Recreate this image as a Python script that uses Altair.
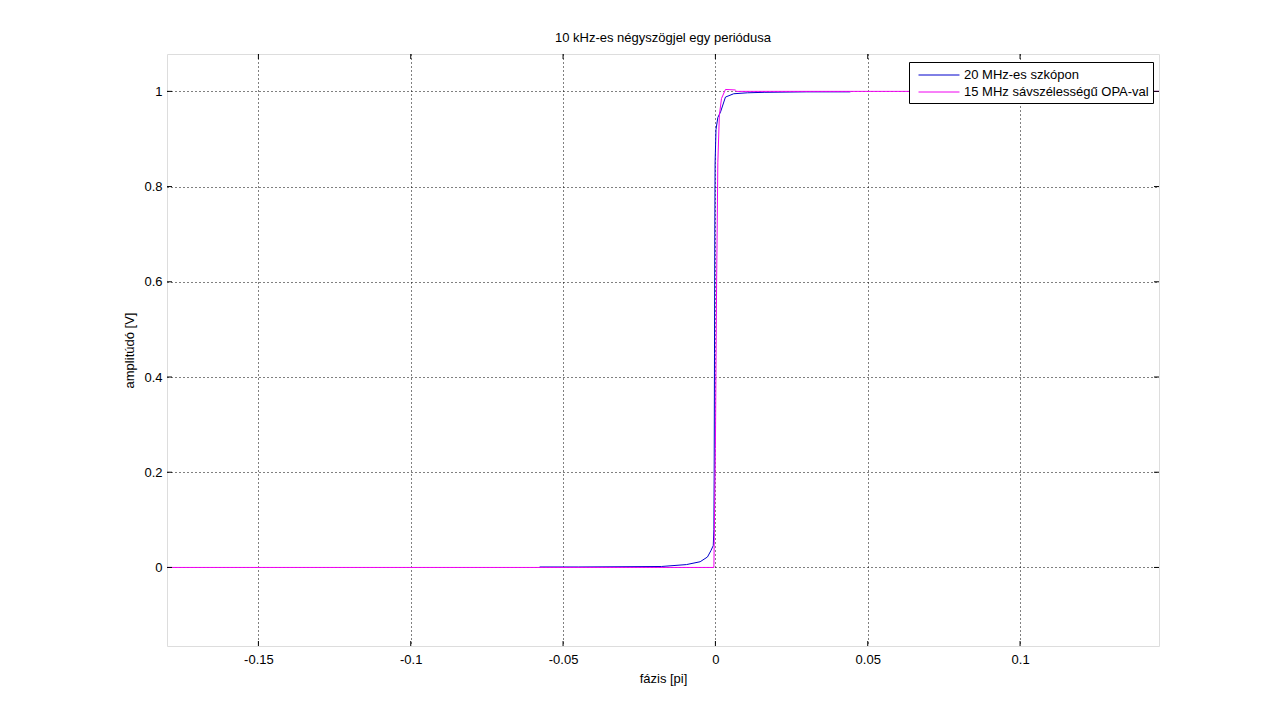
import altair as alt
import pandas as pd

# Blue series: 20 MHz-es szkópon
blue_x = [-0.0577, -0.045, -0.03, -0.0177, -0.0095, -0.005, -0.0026, -0.0015, -0.0007,
          -0.0005, -0.0004, -0.0003, -0.0002, -0.0001, 0.0002, 0.0008, 0.0017, 0.0033,
          0.006, 0.0105, 0.016, 0.03, 0.0443]
blue_y = [0.001, 0.001, 0.0015, 0.002, 0.006, 0.012, 0.022, 0.035, 0.046,
          0.08, 0.2, 0.45, 0.7, 0.85, 0.92, 0.945, 0.957, 0.988,
          0.995, 0.997, 0.998, 0.999, 0.999]

# Magenta series: 15 MHz sávszélességű OPA-val
mag_x = [-0.18, -0.0005, 0.0, 0.0004, 0.0008, 0.0013, 0.002, 0.0033, 0.0065, 0.007, 0.1456]
mag_y = [0.0, 0.0, 0.25, 0.6, 0.85, 0.95, 0.985, 1.004, 1.003, 1.0, 1.0]

series_names = ["20 MHz-es szkópon", "15 MHz sávszélességű OPA-val"]
series_colors = ["#0000cc", "#f000f0"]

x_ticks = [-0.15, -0.1, -0.05, 0, 0.05, 0.1]
y_ticks = [0, 0.2, 0.4, 0.6, 0.8, 1]
x_domain = [-0.18, 0.1456]
y_domain = [-0.165, 1.0785]

W, H = 992, 592
FONT = "Liberation Sans"
FS = 13

df_blue = pd.DataFrame({"x": blue_x, "y": blue_y, "s": series_names[0]})
df_mag = pd.DataFrame({"x": mag_x, "y": mag_y, "s": series_names[1]})

xs = alt.Scale(domain=x_domain, nice=False, zero=False)
ys = alt.Scale(domain=y_domain, nice=False, zero=False)
cs = alt.Scale(domain=series_names, range=series_colors)

common_axis = dict(grid=True, gridDash=[1, 3], gridColor="black", gridOpacity=1,
                   ticks=False, domain=False, labelFont=FONT, labelFontSize=FS,
                   labelColor="black", titleFont=FONT, titleFontSize=FS,
                   titleFontWeight="normal", titleColor="black")
x_axis = alt.Axis(values=x_ticks, labelExpr="'' + datum.value", title="fázis [pi]",
                  labelPadding=7, titlePadding=6, **common_axis)
y_axis = alt.Axis(values=y_ticks, labelExpr="'' + datum.value", title="amplitúdó [V]",
                  labelPadding=5, titlePadding=7, **common_axis)

legend = alt.Legend(title=None, orient="none", legendX=742, legendY=8,
                    symbolType="M-1,0H3.82", symbolSize=289, symbolStrokeWidth=1,
                    symbolOffset=5,
                    strokeColor="black", fillColor="white", padding=4,
                    labelFontSize=FS, labelFont=FONT, labelColor="black",
                    labelLimit=400, rowPadding=1, labelOffset=28)

blue = alt.Chart(df_blue).mark_line(strokeWidth=1, clip=True).encode(
    x=alt.X("x:Q", scale=xs, axis=x_axis),
    y=alt.Y("y:Q", scale=ys, axis=y_axis),
    color=alt.Color("s:N", scale=cs, legend=legend, sort=series_names),
)
mag = alt.Chart(df_mag).mark_line(strokeWidth=1, clip=True).encode(
    x=alt.X("x:Q", scale=xs),
    y=alt.Y("y:Q", scale=ys),
    color=alt.Color("s:N", scale=cs, legend=legend, sort=series_names),
)

# inward tick marks (MATLAB box style)
dfx = pd.DataFrame({"x": x_ticks})
dfy = pd.DataFrame({"y": y_ticks})
tb = alt.Chart(dfx).mark_rule(color="black", strokeWidth=1).encode(
    x=alt.X("x:Q", scale=xs), y=alt.value(H - 5), y2=alt.value(H))
tt = alt.Chart(dfx).mark_rule(color="black", strokeWidth=1).encode(
    x=alt.X("x:Q", scale=xs), y=alt.value(0), y2=alt.value(5))
tl = alt.Chart(dfy).mark_rule(color="black", strokeWidth=1).encode(
    y=alt.Y("y:Q", scale=ys), x=alt.value(0), x2=alt.value(5))
tr = alt.Chart(dfy).mark_rule(color="black", strokeWidth=1).encode(
    y=alt.Y("y:Q", scale=ys), x=alt.value(W - 5), x2=alt.value(W))

chart = alt.layer(blue, mag, tb, tt, tl, tr).properties(
    width=W, height=H,
    title=alt.TitleParams("10 kHz-es négyszögjel egy periódusa", font=FONT,
                          fontSize=FS, fontWeight="normal", color="black", offset=9),
    autosize=alt.AutoSizeParams(type="none"),
    padding={"left": 159, "top": 46, "right": 114, "bottom": 72},
).configure_view(stroke="black", strokeWidth=1).configure(background="white")

chart.save("out.html", embed_options={"renderer": "svg", "actions": False})
